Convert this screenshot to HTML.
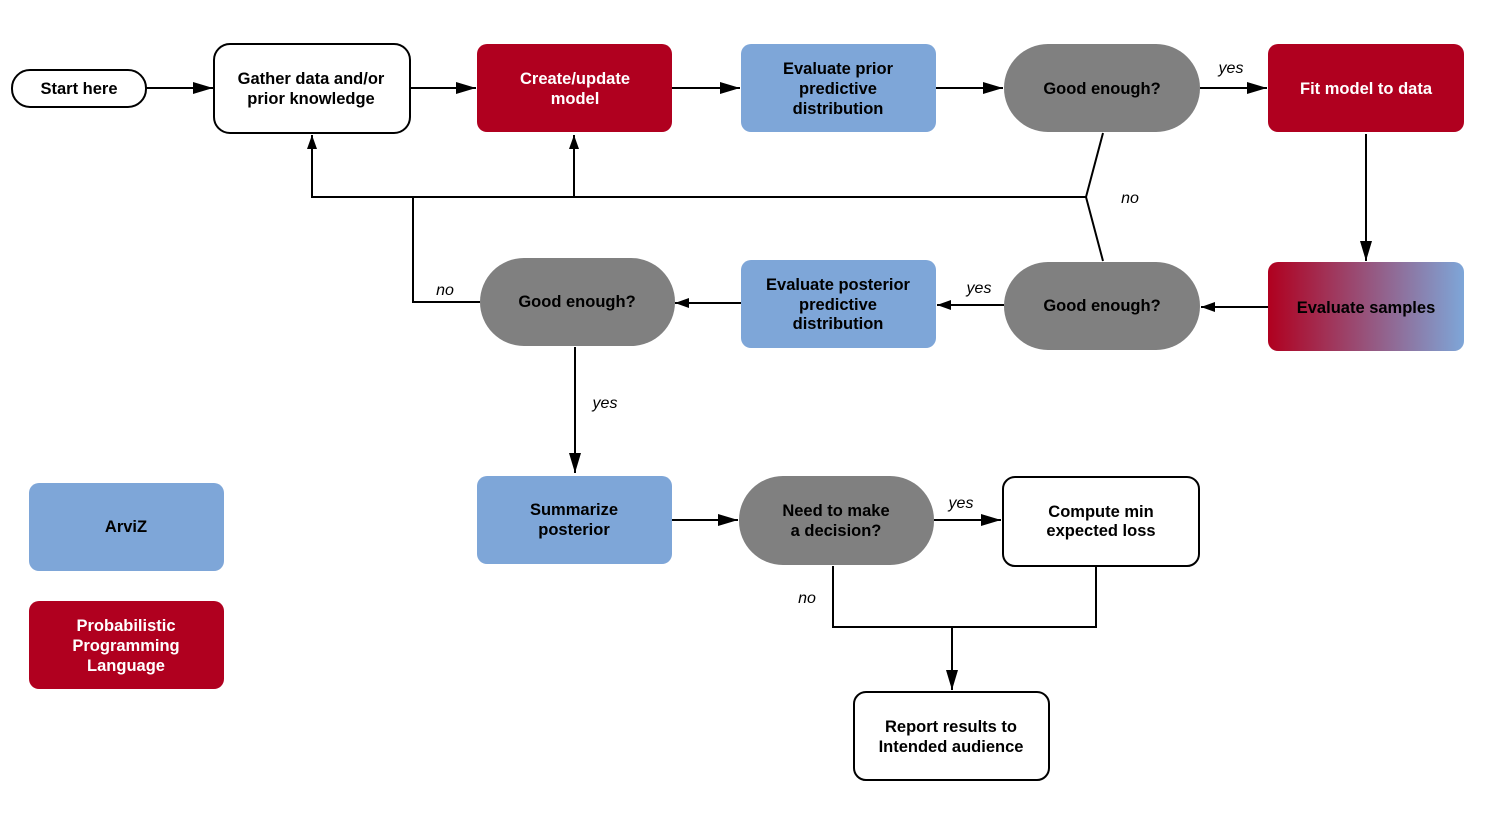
<!DOCTYPE html>
<html><head><meta charset="utf-8"><style>
html,body{margin:0;padding:0;background:#fff;}
svg text{font-family:"Liberation Sans",sans-serif;font-weight:bold;font-size:16.5px;text-anchor:middle;}
.w{fill:#fff}.k{fill:#000}
.lbl{font-style:italic;font-weight:normal;font-size:16px;}
</style></head><body>
<svg width="1512" height="832" viewBox="0 0 1512 832" xmlns="http://www.w3.org/2000/svg">
<defs>
<marker id="a" viewBox="0 0 10 10" refX="10" refY="5" markerWidth="9" markerHeight="9" markerUnits="userSpaceOnUse" orient="auto-start-reverse"><path d="M0,0 L10,5 L0,10 z" fill="#000"/></marker>
<marker id="b" viewBox="0 0 20 12" refX="20" refY="6" markerWidth="20" markerHeight="12" markerUnits="userSpaceOnUse" orient="auto"><path d="M0,0 L20,6 L0,12 z" fill="#000"/></marker>
<marker id="s" viewBox="0 0 14 10" refX="14" refY="5" markerWidth="14" markerHeight="10" markerUnits="userSpaceOnUse" orient="auto"><path d="M0,0 L14,5 L0,10 z" fill="#000"/></marker>
<linearGradient id="g" x1="0" x2="1" y1="0" y2="0"><stop offset="0" stop-color="#b0001f"/><stop offset="1" stop-color="#7ea6d8"/></linearGradient>
</defs>
<g stroke="#000" stroke-width="2" fill="none">
<line x1="146" y1="88" x2="213" y2="88" marker-end="url(#b)"/>
<line x1="410" y1="88" x2="476" y2="88" marker-end="url(#b)"/>
<line x1="672" y1="88" x2="740" y2="88" marker-end="url(#b)"/>
<line x1="936" y1="88" x2="1003" y2="88" marker-end="url(#b)"/>
<line x1="1200" y1="88" x2="1267" y2="88" marker-end="url(#b)"/>
<line x1="1366" y1="134" x2="1366" y2="261" marker-end="url(#b)"/>
<line x1="1268" y1="307" x2="1201" y2="307" marker-end="url(#s)"/>
<line x1="1004" y1="305" x2="937" y2="305" marker-end="url(#s)"/>
<line x1="741" y1="303" x2="675" y2="303" marker-end="url(#s)"/>
<polyline points="480,302 413,302 413,197"/>
<polyline points="1103,133 1086,197 1103,261"/>
<polyline points="1086,197 312,197 312,135" marker-end="url(#s)"/>
<line x1="574" y1="197" x2="574" y2="135" marker-end="url(#s)"/>
<line x1="575" y1="347" x2="575" y2="473" marker-end="url(#b)"/>
<line x1="672" y1="520" x2="738" y2="520" marker-end="url(#b)"/>
<line x1="934" y1="520" x2="1001" y2="520" marker-end="url(#b)"/>
<polyline points="833,566 833,627 1096,627 1096,566"/>
<line x1="952" y1="627" x2="952" y2="690" marker-end="url(#b)"/>
</g>
<rect x="12" y="70" width="134" height="37" rx="18" fill="#fff" stroke="#000" stroke-width="2"/>
<rect x="214" y="44" width="196" height="89" rx="16" fill="#fff" stroke="#000" stroke-width="2"/>
<rect x="477" y="44" width="195" height="88" rx="10" fill="#b0001f"/>
<rect x="741" y="44" width="195" height="88" rx="10" fill="#7ea6d8"/>
<rect x="1004" y="44" width="196" height="88" rx="44" fill="#808080"/>
<rect x="1268" y="44" width="196" height="88" rx="10" fill="#b0001f"/>
<rect x="1268" y="262" width="196" height="89" rx="10" fill="url(#g)"/>
<rect x="1004" y="262" width="196" height="88" rx="44" fill="#808080"/>
<rect x="741" y="260" width="195" height="88" rx="10" fill="#7ea6d8"/>
<rect x="480" y="258" width="195" height="88" rx="44" fill="#808080"/>
<rect x="477" y="476" width="195" height="88" rx="10" fill="#7ea6d8"/>
<rect x="739" y="476" width="195" height="89" rx="44" fill="#808080"/>
<rect x="1003" y="477" width="196" height="89" rx="12" fill="#fff" stroke="#000" stroke-width="2"/>
<rect x="854" y="692" width="195" height="88" rx="12" fill="#fff" stroke="#000" stroke-width="2"/>
<rect x="29" y="483" width="195" height="88" rx="10" fill="#7ea6d8"/>
<rect x="29" y="601" width="195" height="88" rx="10" fill="#b0001f"/>
<text x="79" y="94">Start here</text>
<text x="311" y="84">Gather data and/or</text><text x="311" y="104">prior knowledge</text>
<text class="w" x="575" y="84">Create/update</text><text class="w" x="575" y="104">model</text>
<text x="838" y="74">Evaluate prior</text><text x="838" y="94">predictive</text><text x="838" y="114">distribution</text>
<text x="1102" y="94">Good enough?</text>
<text class="w" x="1366" y="94">Fit model to data</text>
<text x="1366" y="313">Evaluate samples</text>
<text x="1102" y="311">Good enough?</text>
<text x="838" y="290">Evaluate posterior</text><text x="838" y="310">predictive</text><text x="838" y="329">distribution</text>
<text x="577" y="307">Good enough?</text>
<text x="574" y="515">Summarize</text><text x="574" y="535">posterior</text>
<text x="836" y="516">Need to make</text><text x="836" y="536">a decision?</text>
<text x="1101" y="517">Compute min</text><text x="1101" y="536">expected loss</text>
<text x="951" y="732">Report results to</text><text x="951" y="752">Intended audience</text>
<text x="126" y="532">ArviZ</text>
<text class="w" x="126" y="631">Probabilistic</text><text class="w" x="126" y="651">Programming</text><text class="w" x="126" y="671">Language</text>
<text class="lbl" x="1231" y="73">yes</text>
<text class="lbl" x="1130" y="203">no</text>
<text class="lbl" x="979" y="293">yes</text>
<text class="lbl" x="445" y="295">no</text>
<text class="lbl" x="605" y="408">yes</text>
<text class="lbl" x="961" y="508">yes</text>
<text class="lbl" x="807" y="603">no</text>
</svg>
</body></html>
